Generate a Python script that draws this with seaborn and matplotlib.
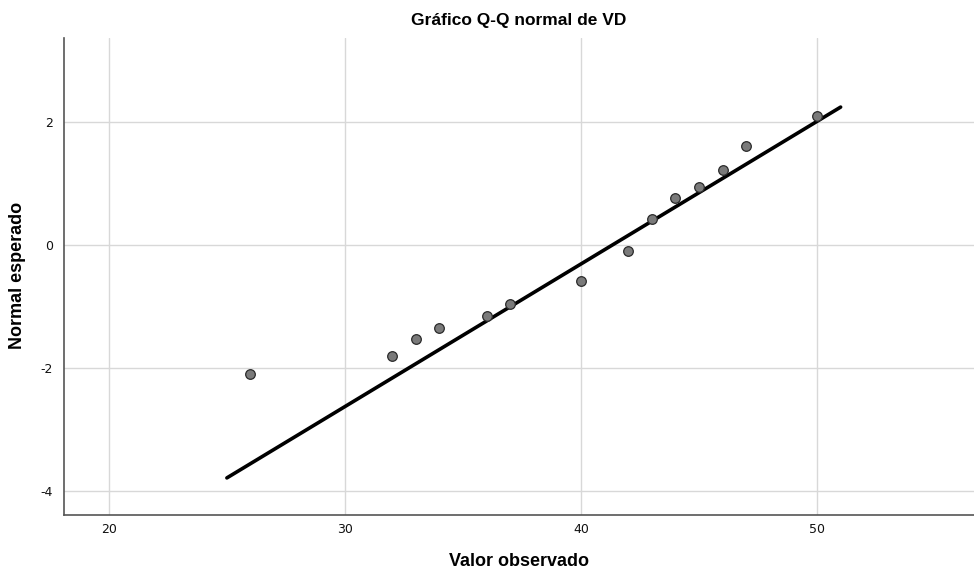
import matplotlib
matplotlib.use("Agg")
import matplotlib.pyplot as plt
import seaborn as sns
import numpy as np
import pandas as pd

# Data
observed = [26, 32, 33, 34, 36, 37, 40, 42, 43, 44, 45, 46, 47, 50]
expected = [-2.10, -1.80, -1.53, -1.35, -1.15, -0.96, -0.59, -0.09, 0.42, 0.76, 0.95, 1.23, 1.61, 2.10]
# Reference normal line: expected = (x - mean) / sd, drawn over the range below
line_mean = 41.32
line_sd = 4.31
line_x = [25, 51]
x_ticks = [20, 30, 40, 50]
y_ticks = [-4, -2, 0, 2]

title = "Gráfico Q-Q normal de VD"
xlabel = "Valor observado"
ylabel = "Normal esperado"

sns.set_theme(style="white")
plt.rcParams['font.family'] = ['DejaVu Sans']
plt.rcParams['axes.unicode_minus'] = False

fig = plt.figure(figsize=(9.74, 5.71), dpi=100)
ax = fig.add_axes([64/974, 56/571, 1 - 64/974, (515-38)/571])

df = pd.DataFrame({"obs": observed, "exp": expected})
line_df = pd.DataFrame({"x": line_x,
                        "y": [(v - line_mean) / line_sd for v in line_x]})

ax.set_xlim(18.1, 56.65)
ax.set_ylim(-4.39, 3.37)
ax.set_xticks(x_ticks)
ax.set_yticks(y_ticks)
ax.grid(True, color="#d8d8d8", linewidth=1.0)
ax.set_axisbelow(True)

sns.lineplot(data=line_df, x="x", y="y", ax=ax, color="black", linewidth=2.6, zorder=2)
sns.scatterplot(data=df, x="obs", y="exp", ax=ax, s=48, color="#7a7a7a",
                edgecolor="#2a2a2a", linewidth=0.9, zorder=3)

for side in ["top", "right"]:
    ax.spines[side].set_visible(False)
for side in ["left", "bottom"]:
    ax.spines[side].set_color("#555555")
    ax.spines[side].set_linewidth(1.2)

ax.tick_params(axis="y", length=0, labelsize=9, labelcolor="#111111", pad=8)
ax.tick_params(axis="x", length=0, labelsize=9, labelcolor="#111111", pad=6)

ax.set_title(title, fontsize=12.5, fontweight="bold", color="black",
             family=["Liberation Sans", "DejaVu Sans"], pad=9)
ax.set_xlabel("")
ax.set_ylabel("")
fig.text(519/974, (571-562)/571, xlabel, ha="center", va="center",
         fontsize=13, fontweight="bold", color="black",
         family=["Liberation Sans", "DejaVu Sans"])
fig.text(18/974, (571-275)/571, ylabel, ha="center", va="center", rotation=90,
         fontsize=13, fontweight="bold", color="black",
         family=["Liberation Sans", "DejaVu Sans"])

fig.savefig("out.png", dpi=100)
